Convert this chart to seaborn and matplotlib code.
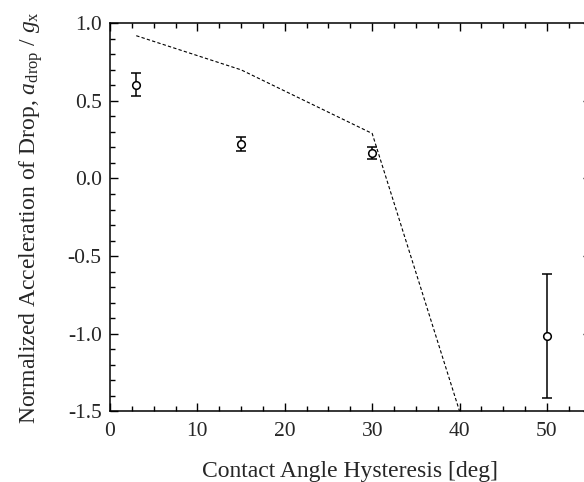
import matplotlib
matplotlib.use("Agg")
import matplotlib.pyplot as plt
import seaborn as sns
import pandas as pd
from matplotlib.ticker import MultipleLocator

# measured data
hysteresis = [3, 15, 30, 50]
accel = [0.605, 0.22, 0.165, -1.015]
accel_err = [0.075, 0.045, 0.04, 0.40]

# model (dashed line)
model_x = [3, 15, 30, 40]
model_y = [0.92, 0.70, 0.29, -1.5]

sns.set_theme(style="ticks")
plt.rcParams["font.family"] = ["Liberation Serif", "DejaVu Serif"]
plt.rcParams["mathtext.fontset"] = "custom"
plt.rcParams["mathtext.rm"] = "Liberation Serif"
plt.rcParams["mathtext.it"] = "Liberation Serif:italic"
plt.rcParams["axes.unicode_minus"] = False

fig = plt.figure(figsize=(5.84, 4.82), dpi=100)
ax = fig.add_axes([0.1884, 0.1467, 0.823, 0.805])

meas = pd.DataFrame({"x": hysteresis, "y": accel, "e": accel_err})
model = pd.DataFrame({"x": model_x, "y": model_y})

sns.lineplot(data=model, x="x", y="y", ax=ax, color="black", lw=0.8,
             linestyle=(0, (3, 2)), sort=False)
ax.errorbar(meas["x"], meas["y"], yerr=meas["e"], fmt="none", ecolor="black",
            elinewidth=1.1, capsize=3.3, capthick=1.1, zorder=3)
sns.scatterplot(data=meas, x="x", y="y", ax=ax, marker="o", s=30,
                facecolor="white", edgecolor="black", linewidth=1.1, zorder=4)

ax.set_xlim(0, 55)
ax.set_ylim(-1.5, 1.0)
ax.xaxis.set_major_locator(MultipleLocator(10))
ax.xaxis.set_minor_locator(MultipleLocator(2.5))
ax.yaxis.set_major_locator(MultipleLocator(0.5))
ax.yaxis.set_minor_locator(MultipleLocator(0.1))
ax.yaxis.set_major_formatter(matplotlib.ticker.FormatStrFormatter("%.1f"))

ax.tick_params(which="both", direction="in", top=True, right=True, color="black", width=1.0)
ax.tick_params(which="major", length=6, labelsize=15.5)
ax.tick_params(axis="x", which="major", pad=8)
ax.tick_params(axis="y", which="major", pad=6)
ax.tick_params(which="minor", length=3.6)
for s in ax.spines.values():
    s.set_linewidth(1.1)
    s.set_color("black")

ax.set_xlabel("Contact Angle Hysteresis [deg]", fontsize=17, labelpad=14)
ax.set_ylabel(r"Normalized Acceleration of Drop, $a_{\mathrm{drop}}$ / $g_{\mathrm{x}}$",
              fontsize=17, labelpad=16)

fig.savefig("out.png", dpi=100)
